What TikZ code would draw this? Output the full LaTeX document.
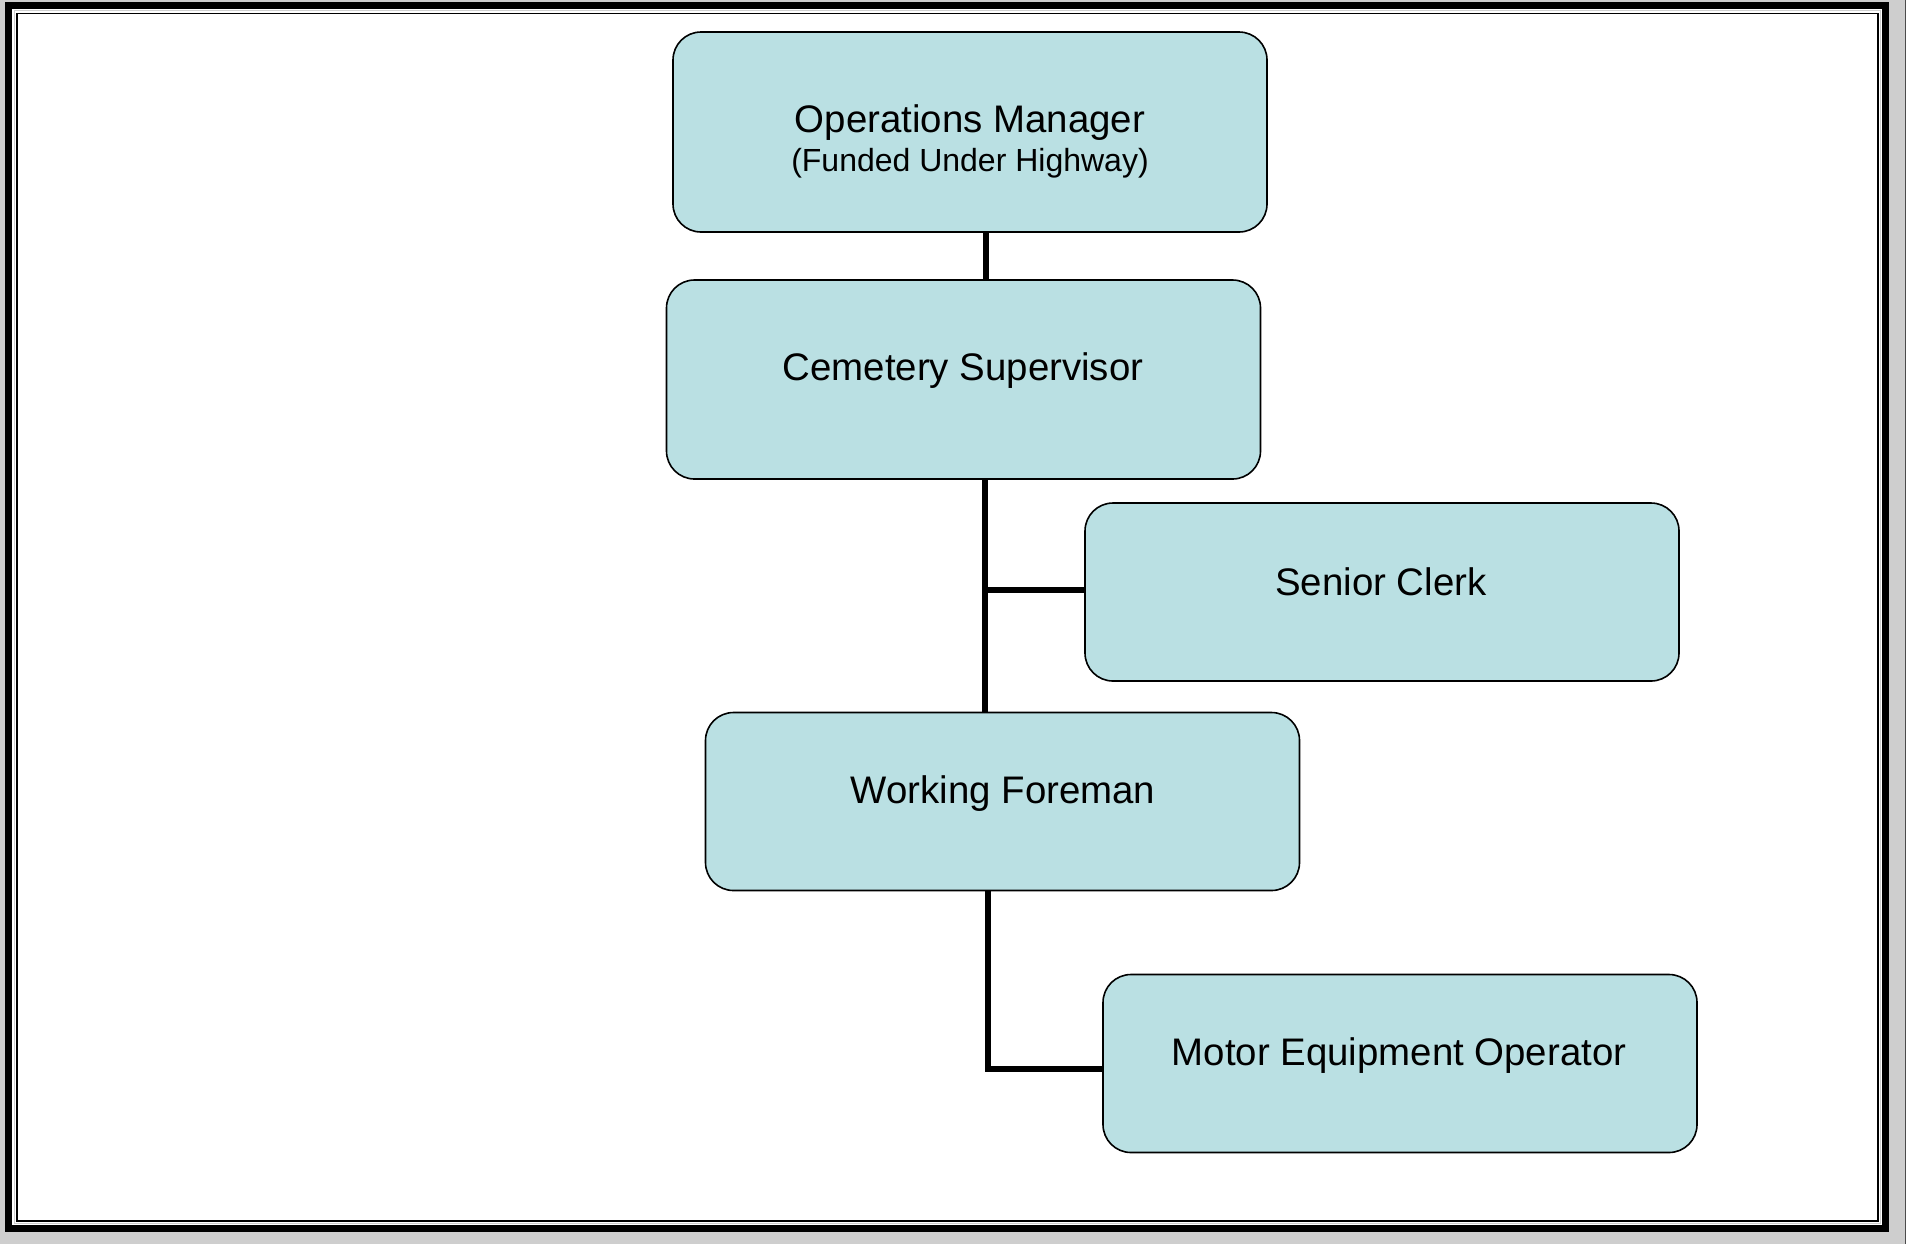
\documentclass[tikz,border=0pt]{standalone}
\usepackage{fontspec}
\setmainfont{Liberation Sans}
\begin{document}
\begin{tikzpicture}[x=0.5pt,y=-0.5pt,
  post/.style={draw=black,line width=0.8pt,fill=boxfill,rounded corners=14pt,
    minimum width=297pt,minimum height=#1,inner sep=0pt,outer sep=0pt},
  post/.default=89pt,
  title/.style={font=\fontsize{19.2}{23}\selectfont,inner sep=0pt},
  sub/.style={font=\fontsize{16}{19}\selectfont,inner sep=0pt},
  link/.style={line width=2.9pt,line cap=butt}
]
\definecolor{boxfill}{RGB}{186,224,227}
\definecolor{pagegray}{RGB}{206,206,206}
% page background and triple frame
\fill[pagegray] (0,0) rectangle (1906,1244);
\useasboundingbox (0,0) rectangle (1906,1244);
\fill[black] (5,2) rectangle (1889,1232);
\fill[white] (12,9) rectangle (1882,1225);
\draw[pagegray,line width=0.6pt] (14.2,10.8) rectangle (1880.5,1223.5);
\draw[black,line width=0.8pt] (16.8,13.5) rectangle (1878,1221);
\draw[black!70,line width=0.6pt] (1905.4,0) -- (1905.4,1244);

% positions
\node[post=100pt] (om)  at (970,132)    {};
\node[post=99.5pt] (cs) at (963.5,379.5) {};
\node[post] (sc)  at (1382,592)   {};
\node[post] (wf)  at (1002.5,801.5) {};
\node[post] (meo) at (1400,1063.5) {};

% titles
\node[title] (om-t)  at (970,123)  {Operations Manager};
\node[sub]   (om-s)  at (970,163)  {(Funded Under Highway)};
\node[title] (cs-t)  at (963,371)  {Cemetery Supervisor};
\node[title] (sc-t)  at (1381,582) {Senior Clerk};
\node[title] (wf-t)  at (1003,794) {Working Foreman};
\node[title] (meo-t) at (1399,1056) {Motor Equipment Operator};

% reporting lines
\coordinate (xa) at (986,0);
\coordinate (xb) at (985,0);
\coordinate (xc) at (988,0);
\coordinate (yb) at (0,590);
\coordinate (yc) at (0,1069);
\draw[link] (om.south -| xa) -- (cs.north -| xa);
\draw[link] (cs.south -| xb) -- (wf.north -| xb);
\draw[link] (xb |- yb) -- (sc.west |- yb);
\draw[link,line join=miter] (wf.south -| xc) -- (xc |- yc) -- (meo.west |- yc);
\end{tikzpicture}
\end{document}
